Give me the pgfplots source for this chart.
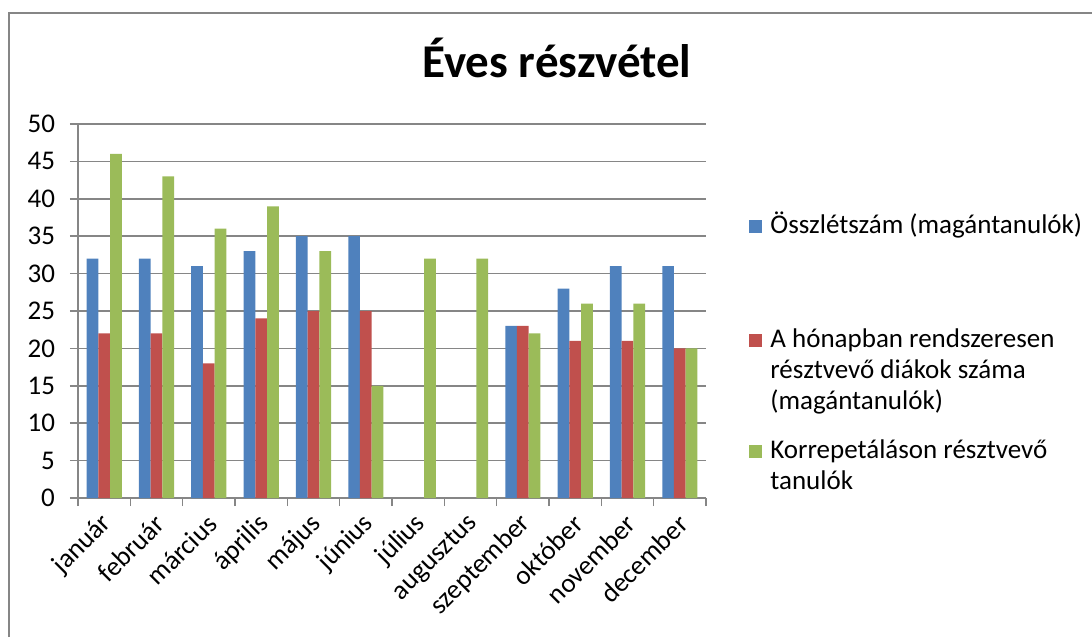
\documentclass[border=0pt]{standalone}
\usepackage{fontspec}
\setmainfont{Carlito}
\usepackage{pgfplots}
\pgfplotsset{compat=1.18}
\definecolor{serA}{HTML}{4F81BD}
\definecolor{serB}{HTML}{C0504D}
\definecolor{serC}{HTML}{9BBB59}
\definecolor{gridc}{HTML}{868686}

\begin{document}
\begin{tikzpicture}[x=1pt,y=1pt]
\useasboundingbox (0,0) rectangle (546,-318.5);
\draw[gridc, line width=0.8pt] (4.5,-318.5) -- (4.5,-6.5) -- (546,-6.5);
\node[anchor=base, font=\fontsize{23.5}{28}\selectfont\bfseries, inner sep=0pt] at (278.5,-38.5) {Éves részvétel};

\begin{axis}[
  at={(39pt,-249pt)}, anchor=south west,
  scale only axis, width=314pt, height=187pt,
  xmin=-0.5, xmax=11.5, ymin=0, ymax=50,
  ytick={0,5,...,50},
  xtick={0,...,11},
  xticklabels={január,február,március,április,május,június,július,augusztus,szeptember,október,november,december},
  minor xtick={-0.5,0.5,...,11.5},
  major x tick style={draw=none},
  tick align=outside,
  major tick length=4pt, minor tick length=4pt,
  tick style={gridc, line width=0.8pt},
  axis x line*=bottom, axis y line*=left,
  axis line style={gridc, line width=0.8pt, -},
  ymajorgrids, grid style={gridc, line width=0.8pt},
  tick label style={font=\fontsize{13.5}{16}\selectfont, text=black},
  /pgf/number format/assume math mode=true,
  xticklabel style={xshift=2.5pt, yshift=-6pt, rotate=45, anchor=east, inner sep=1pt},
  yticklabel style={xshift=-4pt},
  bar width=0.224,
  clip=false,
]
% Összlétszám (magántanulók)
\addplot[ybar, bar shift=-0.224, fill=serA, draw=none] coordinates {
  (0,32) (1,32) (2,31) (3,33) (4,35) (5,35)
  (8,23) (9,28) (10,31) (11,31)};
% A hónapban rendszeresen résztvevő diákok száma
\addplot[ybar, bar shift=0, fill=serB, draw=none] coordinates {
  (0,22) (1,22) (2,18) (3,24) (4,25) (5,25)
  (8,23) (9,21) (10,21) (11,20)};
% Korrepetáláson résztvevő tanulók
\addplot[ybar, bar shift=0.224, fill=serC, draw=none] coordinates {
  (0,46) (1,43) (2,36) (3,39) (4,33) (5,15)
  (6,32) (7,32) (8,22) (9,26) (10,26) (11,20)};
\end{axis}

% legend
\begin{scope}[every node/.style={anchor=base west, inner sep=0pt, font=\fontsize{13.5}{16}\selectfont}]
\fill[serA] (374.5,-116.5) rectangle ++(6.5,6.5);
\node at (385,-116.5) {Összlétszám (magántanulók)};
\fill[serB] (374.5,-173.5) rectangle ++(6.5,6.5);
\node at (385,-173.5) {A hónapban rendszeresen};
\node at (385,-189) {résztvevő diákok száma};
\node at (385,-204.5) {(magántanulók)};
\fill[serC] (374.5,-229) rectangle ++(6.5,6.5);
\node at (385,-229) {Korrepetáláson résztvevő};
\node at (385,-244.5) {tanulók};
\end{scope}
\end{tikzpicture}
\end{document}
